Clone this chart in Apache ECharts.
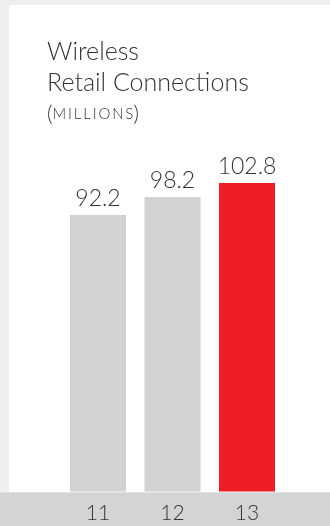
<!DOCTYPE html>
<html>
<head>
<meta charset="utf-8">
<script src="https://cdn.jsdelivr.net/npm/echarts@6/dist/echarts.min.js"></script>
<style>
html,body{margin:0;padding:0;background:#eceef0;}
#chart{width:330px;height:526px;}
</style>
</head>
<body>
<div id="chart"></div>
<script>
const categories = ['11', '12', '13'];
const values = [92.2, 98.2, 102.8];
const barColors = ['#d1d2d4', '#d1d2d4', '#ee1c25'];
const titleLines = ['Wireless', 'Retail Connections'];
const unitText = 'MILLIONS';

const chart = echarts.init(document.getElementById('chart'), null, {renderer: 'canvas'});
const FONT = '"Lato", "Open Sans", sans-serif';
const spaced = unitText.split('').join('\u2009');

chart.setOption({
  backgroundColor: '#eceef0',
  animation: false,
  graphic: [
    {type: 'rect', z: -10, silent: true, shape: {x: 9, y: 5, width: 321, height: 487}, style: {fill: '#ffffff'}},
    {type: 'rect', z: -10, silent: true, shape: {x: 0, y: 492.5, width: 330, height: 34}, style: {fill: '#d3d4d6'}}
  ],
  title: {
    text: titleLines.join('\n'),
    left: 47,
    top: 36,
    padding: 0,
    itemGap: 6,
    textStyle: {fontFamily: FONT, fontSize: 25, fontWeight: 300, lineHeight: 31, color: '#333333'},
    subtext: '{p|(}{s|' + spaced + '}{p|)}',
    subtextStyle: {
      color: '#333333',
      rich: {
        p: {fontFamily: FONT, fontSize: 21, fontWeight: 300, color: '#333333'},
        s: {fontFamily: FONT, fontSize: 15, fontWeight: 300, color: '#333333'}
      }
    }
  },
  grid: {left: 60.75, right: 45.75, top: 161.5, bottom: 34.5, containLabel: false},
  xAxis: {
    type: 'category',
    data: categories,
    axisLine: {show: false},
    axisTick: {show: false},
    axisLabel: {fontFamily: FONT, fontSize: 21, fontWeight: 300, color: '#333333', margin: 11}
  },
  yAxis: {
    type: 'value',
    min: 0,
    max: 110,
    show: false,
    splitLine: {show: false}
  },
  series: [{
    type: 'bar',
    data: values.map((v, i) => ({value: v, itemStyle: {color: barColors[i]}})),
    barWidth: 56,
    label: {
      show: true,
      position: 'top',
      distance: 5,
      fontFamily: FONT,
      fontSize: 23,
      fontWeight: 300,
      color: '#333333',
      formatter: p => p.value.toFixed(1)
    }
  }]
});
</script>
</body>
</html>
